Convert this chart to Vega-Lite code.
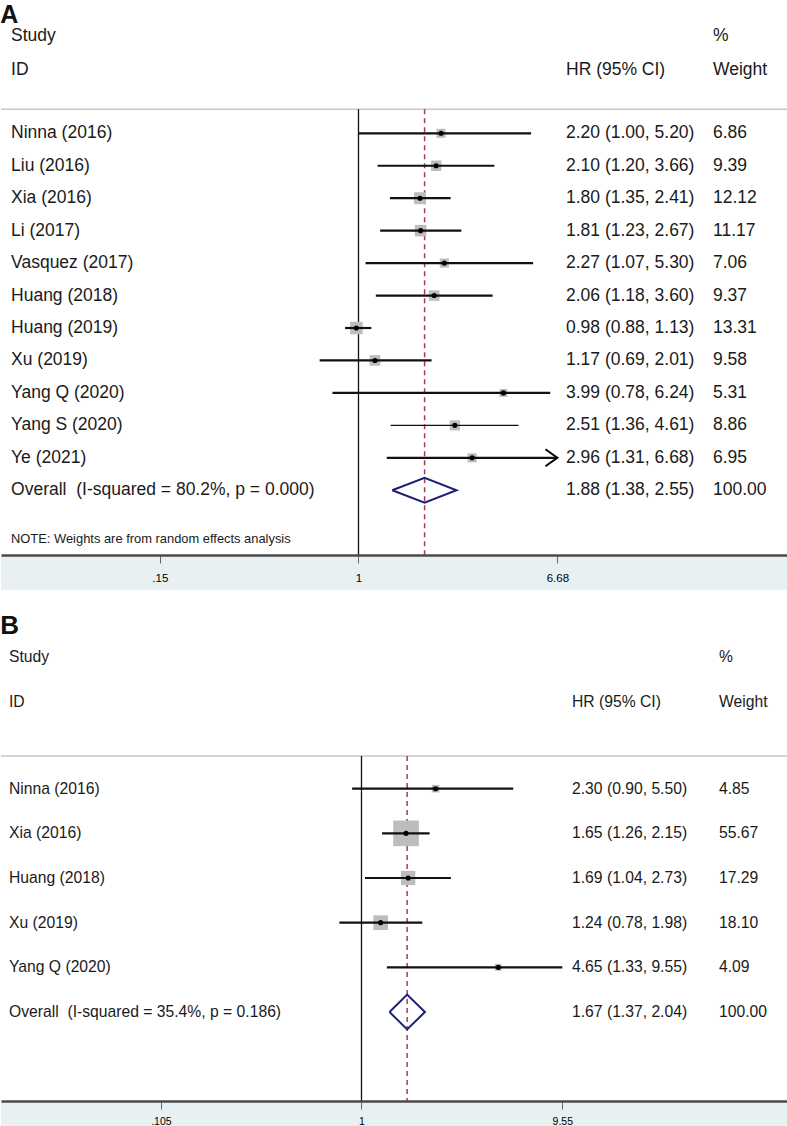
{
  "$schema": "https://vega.github.io/schema/vega-lite/v6.json",
  "padding": {"top": 3, "left": 0, "right": 0, "bottom": 0},
  "background": "white",
  "spacing": 22,
  "config": {
    "view": {"stroke": null},
    "font": "Liberation Sans",
    "text": {"font": "Liberation Sans", "color": "#1a1a1a"}
  },
  "datasets": {
    "studiesA": [
      {"study": "Ninna (2016)", "row": 1, "hr": 2.20, "lo": 1.00, "hi": 5.20, "weight": 6.86, "ci": "2.20 (1.00, 5.20)", "type": "study"},
      {"study": "Liu (2016)", "row": 2, "hr": 2.10, "lo": 1.20, "hi": 3.66, "weight": 9.39, "ci": "2.10 (1.20, 3.66)", "type": "study"},
      {"study": "Xia (2016)", "row": 3, "hr": 1.80, "lo": 1.35, "hi": 2.41, "weight": 12.12, "ci": "1.80 (1.35, 2.41)", "type": "study"},
      {"study": "Li (2017)", "row": 4, "hr": 1.81, "lo": 1.23, "hi": 2.67, "weight": 11.17, "ci": "1.81 (1.23, 2.67)", "type": "study"},
      {"study": "Vasquez (2017)", "row": 5, "hr": 2.27, "lo": 1.07, "hi": 5.30, "weight": 7.06, "ci": "2.27 (1.07, 5.30)", "type": "study"},
      {"study": "Huang (2018)", "row": 6, "hr": 2.06, "lo": 1.18, "hi": 3.60, "weight": 9.37, "ci": "2.06 (1.18, 3.60)", "type": "study"},
      {"study": "Huang (2019)", "row": 7, "hr": 0.98, "lo": 0.88, "hi": 1.13, "weight": 13.31, "ci": "0.98 (0.88, 1.13)", "type": "study"},
      {"study": "Xu (2019)", "row": 8, "hr": 1.17, "lo": 0.69, "hi": 2.01, "weight": 9.58, "ci": "1.17 (0.69, 2.01)", "type": "study"},
      {"study": "Yang Q (2020)", "row": 9, "hr": 3.99, "lo": 0.78, "hi": 6.24, "weight": 5.31, "ci": "3.99 (0.78, 6.24)", "type": "study"},
      {"study": "Yang S (2020)", "row": 10, "hr": 2.51, "lo": 1.36, "hi": 4.61, "weight": 8.86, "ci": "2.51 (1.36, 4.61)", "type": "study"},
      {"study": "Ye (2021)", "row": 11, "hr": 2.96, "lo": 1.31, "hi": 6.68, "weight": 6.95, "ci": "2.96 (1.31, 6.68)", "type": "study"},
      {"study": "Overall\u00a0 (I-squared = 80.2%, p = 0.000)", "row": 12, "hr": 1.88, "lo": 1.38, "hi": 2.55, "weight": 100.00, "ci": "1.88 (1.38, 2.55)", "type": "overall"}
    ],
    "diamondA": [
      {"vertex": 0, "hr": 1.38, "row": 12},
      {"vertex": 1, "hr": 1.88, "row": 11.615},
      {"vertex": 2, "hr": 2.55, "row": 12},
      {"vertex": 3, "hr": 1.88, "row": 12.385},
      {"vertex": 4, "hr": 1.38, "row": 12}
    ],
    "studiesB": [
      {"study": "Ninna (2016)", "row": 1, "hr": 2.30, "lo": 0.90, "hi": 5.50, "weight": 4.85, "ci": "2.30 (0.90, 5.50)", "type": "study"},
      {"study": "Xia (2016)", "row": 2, "hr": 1.65, "lo": 1.26, "hi": 2.15, "weight": 55.67, "ci": "1.65 (1.26, 2.15)", "type": "study"},
      {"study": "Huang (2018)", "row": 3, "hr": 1.69, "lo": 1.04, "hi": 2.73, "weight": 17.29, "ci": "1.69 (1.04, 2.73)", "type": "study"},
      {"study": "Xu (2019)", "row": 4, "hr": 1.24, "lo": 0.78, "hi": 1.98, "weight": 18.10, "ci": "1.24 (0.78, 1.98)", "type": "study"},
      {"study": "Yang Q (2020)", "row": 5, "hr": 4.65, "lo": 1.33, "hi": 9.55, "weight": 4.09, "ci": "4.65 (1.33, 9.55)", "type": "study"},
      {"study": "Overall\u00a0 (I-squared = 35.4%, p = 0.186)", "row": 6, "hr": 1.67, "lo": 1.37, "hi": 2.04, "weight": 100.00, "ci": "1.67 (1.37, 2.04)", "type": "overall"}
    ],
    "diamondB": [
      {"vertex": 0, "hr": 1.37, "row": 6},
      {"vertex": 1, "hr": 1.67, "row": 5.61},
      {"vertex": 2, "hr": 2.04, "row": 6},
      {"vertex": 3, "hr": 1.67, "row": 6.39},
      {"vertex": 4, "hr": 1.37, "row": 6}
    ],
    "one": [{}]
  },
  "vconcat": [
    {
      "title": {"text": "A", "anchor": "start", "fontSize": 25, "fontWeight": "bold", "font": "Liberation Sans", "color": "#111111", "baseline": "top", "offset": -1},
      "width": 787,
      "height": 526,
      "layer": [
        {
          "data": {"name": "one"},
          "mark": {"type": "rect", "color": "#e9f0f2"},
          "encoding": {
            "x": {"datum": 0.0329, "type": "quantitative", "scale": {"type": "log", "domain": [0.0329, 60.46], "nice": false},
              "axis": {"values": [0.15, 1, 6.68], "labelExpr": "replace(toString(datum.value), '0.', '.')", "title": null, "grid": false,
                "domainColor": "#4a4a4a", "domainWidth": 2.5, "tickColor": "#666666", "tickWidth": 1, "tickSize": 8,
                "labelFont": "Liberation Sans", "labelFontSize": 11.5, "labelColor": "#000000", "labelPadding": 9, "zindex": 1}},
            "x2": {"datum": 60.46},
            "y": {"datum": 13.995, "type": "quantitative", "scale": {"domain": [-2.214, 13.995], "reverse": true, "nice": false, "zero": false}, "axis": null},
            "y2": {"datum": 15.074}
          }
        },
        {
          "data": {"name": "one"},
          "mark": {"type": "rule", "color": "#c8c8c8", "strokeWidth": 1.5},
          "encoding": {
            "x": {"datum": 0.0329, "type": "quantitative"},
            "x2": {"datum": 60.46},
            "y": {"datum": 0.26, "type": "quantitative", "axis": null}
          }
        },
        {
          "data": {"name": "one"},
          "mark": {"type": "rule", "color": "#111111", "strokeWidth": 1.3},
          "encoding": {
            "x": {"datum": 1, "type": "quantitative"},
            "y": {"datum": 0.26, "type": "quantitative", "axis": null},
            "y2": {"datum": 13.995}
          }
        },
        {
          "data": {"name": "studiesA"},
          "transform": [{"filter": "datum.type == 'overall'"}],
          "mark": {"type": "rule", "color": "#a83a52", "strokeWidth": 1.5, "strokeDash": [5, 4]},
          "encoding": {
            "x": {"field": "hr", "type": "quantitative", "title": null},
            "y": {"datum": 0.26, "type": "quantitative", "axis": null},
            "y2": {"datum": 13.995}
          }
        },
        {
          "data": {"name": "studiesA"},
          "transform": [{"filter": "datum.type == 'study'"}],
          "mark": {"type": "point", "shape": "square", "filled": true, "color": "#bdbdbd", "opacity": 1},
          "encoding": {
            "x": {"field": "hr", "type": "quantitative", "title": null},
            "y": {"field": "row", "type": "quantitative", "axis": null},
            "size": {"field": "weight", "type": "quantitative", "scale": {"domain": [0, 100], "range": [0, 1180]}, "legend": null}
          }
        },
        {
          "data": {"name": "studiesA"},
          "transform": [{"filter": "datum.type == 'study'"}],
          "mark": {"type": "rule", "color": "#111111"},
          "encoding": {
            "x": {"field": "lo", "type": "quantitative", "title": null},
            "x2": {"field": "hi"},
            "y": {"field": "row", "type": "quantitative", "axis": null},
            "strokeWidth": {"condition": {"test": "datum.study == 'Yang S (2020)'", "value": 1.2}, "value": 2.2}
          }
        },
        {
          "data": {"name": "studiesA"},
          "transform": [{"filter": "datum.type == 'study'"}],
          "mark": {"type": "point", "shape": "circle", "filled": true, "color": "#000000", "size": 26, "opacity": 1},
          "encoding": {
            "x": {"field": "hr", "type": "quantitative", "title": null},
            "y": {"field": "row", "type": "quantitative", "axis": null}
          }
        },
        {
          "data": {"name": "studiesA"},
          "transform": [{"filter": "datum.study == 'Ye (2021)'"}],
          "mark": {"type": "point", "shape": "M-1.4,-1L0,0L-1.4,1", "filled": false, "color": "#000000", "strokeWidth": 2, "size": 289, "opacity": 1},
          "encoding": {
            "x": {"field": "hi", "type": "quantitative", "title": null},
            "y": {"field": "row", "type": "quantitative", "axis": null}
          }
        },
        {
          "data": {"name": "diamondA"},
          "mark": {"type": "line", "color": "#1b1f78", "strokeWidth": 2},
          "encoding": {
            "x": {"field": "hr", "type": "quantitative", "title": null},
            "y": {"field": "row", "type": "quantitative", "axis": null},
            "order": {"field": "vertex"}
          }
        },
        {
          "data": {"name": "studiesA"},
          "mark": {"type": "text", "align": "left", "baseline": "middle", "fontSize": 17.5},
          "encoding": {
            "x": {"datum": 0.03621, "type": "quantitative"},
            "y": {"field": "row", "type": "quantitative", "axis": null},
            "text": {"field": "study"}
          }
        },
        {
          "data": {"name": "studiesA"},
          "mark": {"type": "text", "align": "left", "baseline": "middle", "fontSize": 17.5},
          "encoding": {
            "x": {"datum": 7.256, "type": "quantitative"},
            "y": {"field": "row", "type": "quantitative", "axis": null},
            "text": {"field": "ci"}
          }
        },
        {
          "data": {"name": "studiesA"},
          "mark": {"type": "text", "align": "left", "baseline": "middle", "fontSize": 17.5},
          "encoding": {
            "x": {"datum": 29.54, "type": "quantitative"},
            "y": {"field": "row", "type": "quantitative", "axis": null},
            "text": {"field": "weight", "format": ".2f"}
          }
        },
        {
          "data": {"name": "one"},
          "mark": {"type": "text", "align": "left", "baseline": "middle", "fontSize": 17.5, "text": "Study"},
          "encoding": {
            "x": {"datum": 0.03621, "type": "quantitative"},
            "y": {"datum": -1.983, "type": "quantitative", "axis": null}
          }
        },
        {
          "data": {"name": "one"},
          "mark": {"type": "text", "align": "left", "baseline": "middle", "fontSize": 17.5, "text": "ID"},
          "encoding": {
            "x": {"datum": 0.03621, "type": "quantitative"},
            "y": {"datum": -0.951, "type": "quantitative", "axis": null}
          }
        },
        {
          "data": {"name": "one"},
          "mark": {"type": "text", "align": "left", "baseline": "middle", "fontSize": 17.5, "text": "HR (95% CI)"},
          "encoding": {
            "x": {"datum": 7.256, "type": "quantitative"},
            "y": {"datum": -0.951, "type": "quantitative", "axis": null}
          }
        },
        {
          "data": {"name": "one"},
          "mark": {"type": "text", "align": "left", "baseline": "middle", "fontSize": 17.5, "text": "%"},
          "encoding": {
            "x": {"datum": 29.54, "type": "quantitative"},
            "y": {"datum": -1.983, "type": "quantitative", "axis": null}
          }
        },
        {
          "data": {"name": "one"},
          "mark": {"type": "text", "align": "left", "baseline": "middle", "fontSize": 17.5, "text": "Weight"},
          "encoding": {
            "x": {"datum": 29.54, "type": "quantitative"},
            "y": {"datum": -0.951, "type": "quantitative", "axis": null}
          }
        },
        {
          "data": {"name": "one"},
          "mark": {"type": "text", "align": "left", "baseline": "middle", "fontSize": 12.9, "text": "NOTE: Weights are from random effects analysis"},
          "encoding": {
            "x": {"datum": 0.03621, "type": "quantitative"},
            "y": {"datum": 13.5, "type": "quantitative", "axis": null}
          }
        }
      ]
    },
    {
      "title": {"text": "B", "anchor": "start", "fontSize": 26, "fontWeight": "bold", "font": "Liberation Sans", "color": "#111111", "baseline": "top", "offset": 2},
      "width": 787,
      "height": 460,
      "layer": [
        {
          "data": {"name": "one"},
          "mark": {"type": "rect", "color": "#e9f0f2"},
          "encoding": {
            "x": {"datum": 0.01741, "type": "quantitative", "scale": {"type": "log", "domain": [0.01741, 120.6], "nice": false},
              "axis": {"values": [0.105, 1, 9.55], "labelExpr": "replace(toString(datum.value), '0.', '.')", "title": null, "grid": false,
                "domainColor": "#4a4a4a", "domainWidth": 2.5, "tickColor": "#666666", "tickWidth": 1, "tickSize": 8,
                "labelFont": "Liberation Sans", "labelFontSize": 10.5, "labelColor": "#000000", "labelPadding": 7, "zindex": 1}},
            "x2": {"datum": 120.6},
            "y": {"datum": 7.993, "type": "quantitative", "scale": {"domain": [-2.307, 7.993], "reverse": true, "nice": false, "zero": false}, "axis": null},
            "y2": {"datum": 8.58}
          }
        },
        {
          "data": {"name": "one"},
          "mark": {"type": "rule", "color": "#c8c8c8", "strokeWidth": 1.5},
          "encoding": {
            "x": {"datum": 0.01741, "type": "quantitative"},
            "x2": {"datum": 120.6},
            "y": {"datum": 0.268, "type": "quantitative", "axis": null}
          }
        },
        {
          "data": {"name": "one"},
          "mark": {"type": "rule", "color": "#111111", "strokeWidth": 1.3},
          "encoding": {
            "x": {"datum": 1, "type": "quantitative"},
            "y": {"datum": 0.268, "type": "quantitative", "axis": null},
            "y2": {"datum": 7.993}
          }
        },
        {
          "data": {"name": "studiesB"},
          "transform": [{"filter": "datum.type == 'overall'"}],
          "mark": {"type": "rule", "color": "#a83a52", "strokeWidth": 1.5, "strokeDash": [5, 4]},
          "encoding": {
            "x": {"field": "hr", "type": "quantitative", "title": null},
            "y": {"datum": 0.268, "type": "quantitative", "axis": null},
            "y2": {"datum": 7.993}
          }
        },
        {
          "data": {"name": "studiesB"},
          "transform": [{"filter": "datum.type == 'study'"}],
          "mark": {"type": "point", "shape": "square", "filled": true, "color": "#bdbdbd", "opacity": 1},
          "encoding": {
            "x": {"field": "hr", "type": "quantitative", "title": null},
            "y": {"field": "row", "type": "quantitative", "axis": null},
            "size": {"field": "weight", "type": "quantitative", "scale": {"domain": [0, 100], "range": [0, 900]}, "legend": null}
          }
        },
        {
          "data": {"name": "studiesB"},
          "transform": [{"filter": "datum.type == 'study'"}],
          "mark": {"type": "rule", "color": "#111111", "strokeWidth": 2.2},
          "encoding": {
            "x": {"field": "lo", "type": "quantitative", "title": null},
            "x2": {"field": "hi"},
            "y": {"field": "row", "type": "quantitative", "axis": null}
          }
        },
        {
          "data": {"name": "studiesB"},
          "transform": [{"filter": "datum.type == 'study'"}],
          "mark": {"type": "point", "shape": "circle", "filled": true, "color": "#000000", "size": 26, "opacity": 1},
          "encoding": {
            "x": {"field": "hr", "type": "quantitative", "title": null},
            "y": {"field": "row", "type": "quantitative", "axis": null}
          }
        },
        {
          "data": {"name": "diamondB"},
          "mark": {"type": "line", "color": "#1b1f78", "strokeWidth": 2},
          "encoding": {
            "x": {"field": "hr", "type": "quantitative", "title": null},
            "y": {"field": "row", "type": "quantitative", "axis": null},
            "order": {"field": "vertex"}
          }
        },
        {
          "data": {"name": "studiesB"},
          "mark": {"type": "text", "align": "left", "baseline": "middle", "fontSize": 15.7},
          "encoding": {
            "x": {"datum": 0.01905, "type": "quantitative"},
            "y": {"field": "row", "type": "quantitative", "axis": null},
            "text": {"field": "study"}
          }
        },
        {
          "data": {"name": "studiesB"},
          "mark": {"type": "text", "align": "left", "baseline": "middle", "fontSize": 15.7},
          "encoding": {
            "x": {"datum": 10.65, "type": "quantitative"},
            "y": {"field": "row", "type": "quantitative", "axis": null},
            "text": {"field": "ci"}
          }
        },
        {
          "data": {"name": "studiesB"},
          "mark": {"type": "text", "align": "left", "baseline": "middle", "fontSize": 15.7},
          "encoding": {
            "x": {"datum": 55.54, "type": "quantitative"},
            "y": {"field": "row", "type": "quantitative", "axis": null},
            "text": {"field": "weight", "format": ".2f"}
          }
        },
        {
          "data": {"name": "one"},
          "mark": {"type": "text", "align": "left", "baseline": "middle", "fontSize": 15.7, "text": "Study"},
          "encoding": {
            "x": {"datum": 0.01905, "type": "quantitative"},
            "y": {"datum": -1.938, "type": "quantitative", "axis": null}
          }
        },
        {
          "data": {"name": "one"},
          "mark": {"type": "text", "align": "left", "baseline": "middle", "fontSize": 15.7, "text": "ID"},
          "encoding": {
            "x": {"datum": 0.01905, "type": "quantitative"},
            "y": {"datum": -0.946, "type": "quantitative", "axis": null}
          }
        },
        {
          "data": {"name": "one"},
          "mark": {"type": "text", "align": "left", "baseline": "middle", "fontSize": 15.7, "text": "HR (95% CI)"},
          "encoding": {
            "x": {"datum": 10.65, "type": "quantitative"},
            "y": {"datum": -0.946, "type": "quantitative", "axis": null}
          }
        },
        {
          "data": {"name": "one"},
          "mark": {"type": "text", "align": "left", "baseline": "middle", "fontSize": 15.7, "text": "%"},
          "encoding": {
            "x": {"datum": 55.54, "type": "quantitative"},
            "y": {"datum": -1.938, "type": "quantitative", "axis": null}
          }
        },
        {
          "data": {"name": "one"},
          "mark": {"type": "text", "align": "left", "baseline": "middle", "fontSize": 15.7, "text": "Weight"},
          "encoding": {
            "x": {"datum": 55.54, "type": "quantitative"},
            "y": {"datum": -0.946, "type": "quantitative", "axis": null}
          }
        }
      ]
    }
  ]
}
